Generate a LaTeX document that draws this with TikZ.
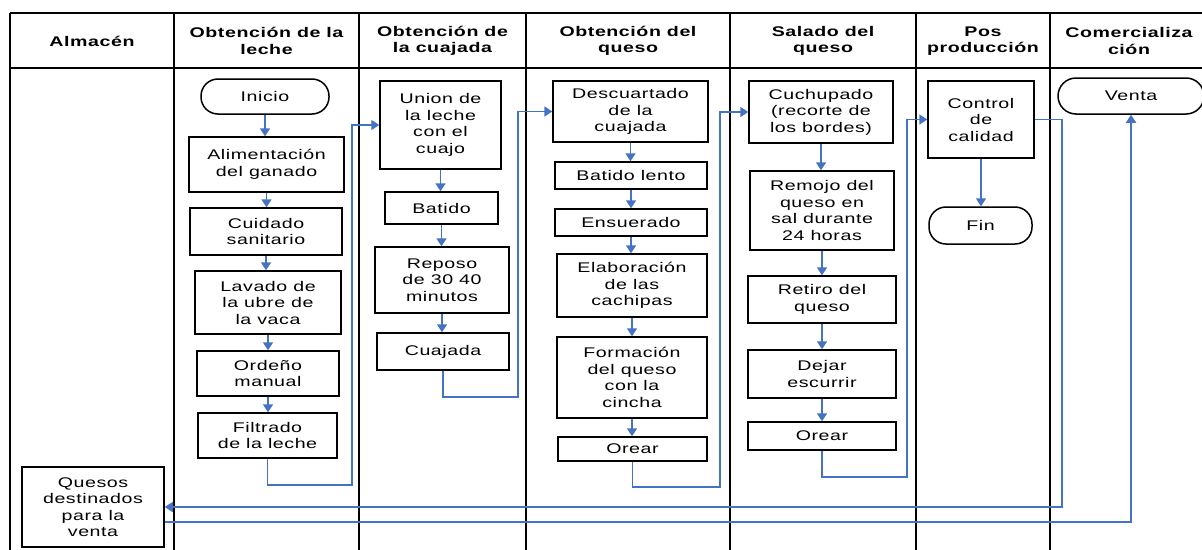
\documentclass[tikz,border=0pt]{standalone}
\usepackage{fontspec}
\setmainfont{Liberation Sans}[FakeStretch=1.4,LetterSpace=4]
\usetikzlibrary{arrows.meta}
\definecolor{flujo}{RGB}{68,114,196}
\tikzset{
  caja/.style={draw, line width=1.5pt, align=center, inner sep=0pt},
  term/.style={caja, rounded corners=17pt},
  flecha/.style={draw=flujo, line width=1.7pt, -{Triangle[length=8pt,width=10pt]}},
  tabla/.style={line width=2.5pt},
  titulo/.style={align=center, font=\fontsize{14}{16.5}\selectfont\bfseries}
}
\begin{document}
\begin{tikzpicture}[x=1pt, y=-1pt, font=\fontsize{14}{16.5}\selectfont]
    \useasboundingbox (0,0) rectangle (1202,549);
    % tabla
    \draw[line width=1.8pt] (10,13) -- (1210,13);
    \draw[line width=1.8pt] (10,68) -- (1210,68);
    \foreach \x in {10,174,359,526,730,916,1050}
        \draw[tabla] (\x,13) -- (\x,552);
    \foreach \x/\t in {92/Almacén, 266.5/{Obtención de la\\leche}, 442.5/{Obtención de\\la cuajada},
                       628/{Obtención del\\queso}, 823/{Salado del\\queso}, 983/{Pos\\producción},
                       1129/{Comercializa\\ción}}
        \node[titulo] (t\x) at (\x,41) {\t};
    % almacen
    \node[caja, minimum width=142pt, minimum height=80pt] (que) at (93,507) {Quesos\\destinados\\para la\\venta};
    % leche
    \node[term, minimum width=128pt, minimum height=35pt] (ini) at (265,96.5) {Inicio};
    \node[caja, minimum width=155pt, minimum height=55pt] (ali) at (266.5,164.5) {Alimentación\\del ganado};
    \node[caja, minimum width=152pt, minimum height=47pt] (cui) at (266,231.5) {Cuidado\\sanitario};
    \node[caja, minimum width=146pt, minimum height=63pt] (lav) at (268,302.5) {Lavado de\\la ubre de\\la vaca};
    \node[caja, minimum width=142pt, minimum height=45pt] (ord) at (268,373.5) {Ordeño\\manual};
    \node[caja, minimum width=139pt, minimum height=45pt] (fil) at (267.5,435.5) {Filtrado\\de la leche};
    % cuajada
    \node[caja, minimum width=121pt, minimum height=88pt] (uni) at (440.5,125) {Union de\\la leche\\con el\\cuajo};
    \node[caja, minimum width=113pt, minimum height=32pt] (bat) at (441.5,208) {Batido};
    \node[caja, minimum width=134pt, minimum height=66pt] (rep) at (442,280) {Reposo\\de 30 40\\minutos};
    \node[caja, minimum width=132pt, minimum height=37pt] (cua) at (443,351.5) {Cuajada};
    % queso
    \node[caja, minimum width=155pt, minimum height=61pt] (des) at (630.5,111.5) {Descuartado\\de la\\cuajada};
    \node[caja, minimum width=152pt, minimum height=27pt] (len) at (631,175.5) {Batido lento};
    \node[caja, minimum width=152pt, minimum height=27pt] (ens) at (631,222.5) {Ensuerado};
    \node[caja, minimum width=150pt, minimum height=63pt] (ela) at (632,285.5) {Elaboración\\de las\\cachipas};
    \node[caja, minimum width=150pt, minimum height=81pt] (for) at (632,377.5) {Formación\\del queso\\con la\\cincha};
    \node[caja, minimum width=149pt, minimum height=24pt] (ore) at (632.5,449) {Orear};
    % salado
    \node[caja, minimum width=144pt, minimum height=62pt] (cuc) at (821,112) {Cuchupado\\(recorte de\\los bordes)};
    \node[caja, minimum width=144pt, minimum height=79pt] (rem) at (822,210.5) {Remojo del\\queso en\\sal durante\\24 horas};
    \node[caja, minimum width=148pt, minimum height=47pt] (ret) at (822,299.5) {Retiro del\\queso};
    \node[caja, minimum width=148pt, minimum height=48pt] (dej) at (822,374) {Dejar\\escurrir};
    \node[caja, minimum width=148pt, minimum height=28pt] (or2) at (822,436) {Orear};
    % pos produccion
    \node[caja, minimum width=106pt, minimum height=77pt] (con) at (981,119.5) {Control\\de\\calidad};
    \node[term, minimum width=103pt, minimum height=37pt] (fin) at (980.5,225.5) {Fin};
    % comercializacion
    \node[term, rounded corners=18pt, minimum width=146pt, minimum height=36pt] (ven) at (1131,96) {Venta};
    % flujo
    \foreach \a/\b in {ini/ali, ali/cui, cui/lav, lav/ord, ord/fil, uni/bat, bat/rep, rep/cua,
                       des/len, len/ens, ens/ela, ela/for, for/ore, cuc/rem, rem/ret, ret/dej,
                       dej/or2, con/fin}
        \draw[flecha] (\a.south) -- (\a.south |- \b.north);
    \draw[flecha] (fil.south) -- ++(0,26) -- ++(84.5,0) |- (uni.west);
    \draw[flecha] (cua.south) -- ++(0,26) -- ++(75,0) |- (des.west);
    \draw[flecha] (ore.south) -- ++(0,25) -- ++(87.5,0) |- (cuc.west);
    \draw[flecha] (or2.south) -- ++(0,26) -- ++(85,0) |- (con.west);
    \draw[flecha] (con.east) -- ++(27,0) |- (que.east);
    \draw[flecha] ([yshift=-15pt]que.east) -| (ven.south);
\end{tikzpicture}
\end{document}
